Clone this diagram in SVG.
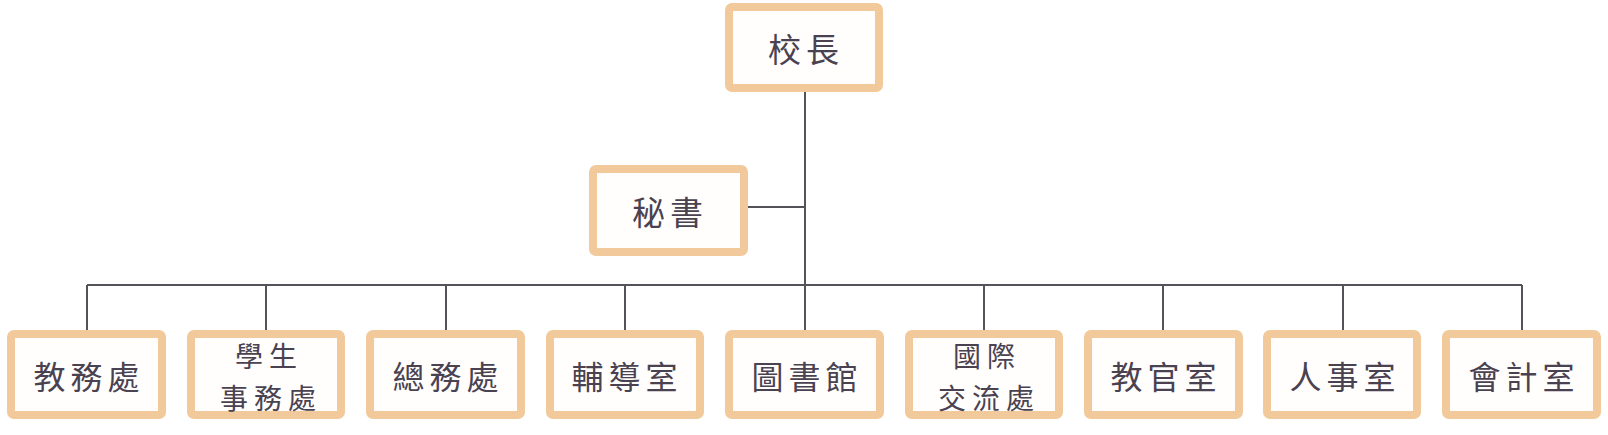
<svg xmlns="http://www.w3.org/2000/svg" width="1608" height="435" viewBox="0 0 1608 435">
<style>
.box{fill:#fffefd;stroke:#f2c99a;stroke-width:8;}
.t{font-family:"Noto Sans CJK TC","Noto Sans CJK SC",sans-serif;fill:#4a4250;text-anchor:middle;dominant-baseline:central;}
.big{font-size:33px;letter-spacing:5px;}
.mid{font-size:32px;letter-spacing:5px;}
.sm{font-size:28px;letter-spacing:6px;}
.ln{stroke:#55535a;stroke-width:2;fill:none;}
</style>
<rect width="1608" height="435" fill="#ffffff"/>
<g id="connectors">
<path class="ln" d="M805 92 V330 M748 207 H805 M87 285 H1522"/>
<path class="ln" d="M87 285 V330 M266 285 V330 M446 285 V330 M625 285 V330 M984 285 V330 M1163 285 V330 M1343 285 V330 M1522 285 V330"/>
</g>
<g id="n-principal"><rect class="box" x="729" y="7" width="150" height="81" rx="3"/><text class="t big" x="806" y="48">校長</text></g>
<g id="n-secretary"><rect class="box" x="593" y="169" width="151" height="83" rx="3"/><text class="t big" x="670" y="211">秘書</text></g>
<g id="n-1"><rect class="box" x="11" y="334" width="151" height="81" rx="3"/><text class="t mid" x="89" y="375">教務處</text></g>
<g id="n-2"><rect class="box" x="191" y="334" width="150" height="81" rx="3"/><text class="t sm" x="269" y="355">學生</text><text class="t sm" x="271" y="397">事務處</text></g>
<g id="n-3"><rect class="box" x="370" y="334" width="151" height="81" rx="3"/><text class="t mid" x="448" y="375">總務處</text></g>
<g id="n-4"><rect class="box" x="550" y="334" width="150" height="81" rx="3"/><text class="t mid" x="627" y="375">輔導室</text></g>
<g id="n-5"><rect class="box" x="729" y="334" width="151" height="81" rx="3"/><text class="t mid" x="807" y="375">圖書館</text></g>
<g id="n-6"><rect class="box" x="909" y="334" width="150" height="81" rx="3"/><text class="t sm" x="987" y="355">國際</text><text class="t sm" x="989" y="397">交流處</text></g>
<g id="n-7"><rect class="box" x="1088" y="334" width="151" height="81" rx="3"/><text class="t mid" x="1166" y="375">教官室</text></g>
<g id="n-8"><rect class="box" x="1267" y="334" width="150" height="81" rx="3"/><text class="t mid" x="1345" y="375">人事室</text></g>
<g id="n-9"><rect class="box" x="1446" y="334" width="151" height="81" rx="3"/><text class="t mid" x="1524" y="375">會計室</text></g>
</svg>
